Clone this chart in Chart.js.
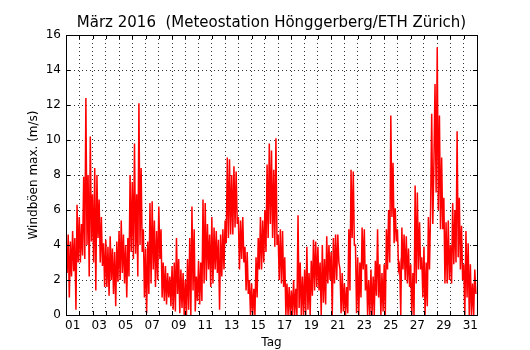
<!DOCTYPE html>
<html>
<head>
<meta charset="utf-8">
<script src="https://cdn.jsdelivr.net/npm/chart.js@4.4.1/dist/chart.umd.min.js"></script>
<style>
  html, body { margin: 0; padding: 0; background: #fff; }
  canvas { display: block; }
</style>
</head>
<body>
<canvas id="chart" width="530" height="350"></canvas>
<script>
// peak gusts (m/s), one value every 2 hours
const gusts = [
  /* 01 */ 3.9, 2.4, 4.6, 1.0, 4.2, 2.2, 4.8, 2.5, 4.4, 0.3, 6.3, 3.0,
  /* 02 */ 5.6, 3.0, 5.2, 3.4, 7.9, 3.2, 12.4, 4.0, 8.0, 2.2, 10.2, 4.2,
  /* 03 */ 6.9, 3.0, 8.4, 1.4, 8.0, 4.4, 6.6, 3.0, 5.6, 2.8, 4.1, 1.6,
  /* 04 */ 4.3, 1.6, 3.9, 1.1, 4.5, 2.0, 3.8, 1.2, 3.6, 0.5, 4.2, 1.9,
  /* 05 */ 4.8, 2.0, 5.4, 2.4, 4.6, 1.8, 4.0, 1.0, 4.4, 2.2, 8.0, 3.6,
  /* 06 */ 7.6, 3.2, 9.8, 3.5, 6.9, 2.2, 12.1, 4.0, 8.4, 3.6, 4.9, 1.0,
  /* 07 */ 3.8, 0.1, 4.2, 1.2, 6.4, 1.8, 6.5, 2.6, 5.4, 1.6, 4.8, 2.0,
  /* 08 */ 6.2, 3.2, 4.9, 1.0, 3.0, 0.8, 2.8, 0.6, 2.4, 1.0, 2.2, 0.5,
  /* 09 */ 2.8, 0.3, 3.0, 0.2, 4.4, 1.2, 3.2, 0.1, 2.6, 0.4, 2.4, 0.0,
  /* 10 */ 2.0, 0.0, 3.2, 0.3, 4.4, 0.0, 6.2, 1.4, 4.9, 0.2, 2.2, 0.8,
  /* 11 */ 3.1, 0.6, 3.0, 0.8, 6.6, 1.8, 6.4, 2.0, 5.2, 2.6, 4.6, 1.6,
  /* 12 */ 5.6, 1.8, 5.0, 2.6, 4.8, 2.4, 4.3, 0.3, 4.6, 2.2, 4.9, 2.6,
  /* 13 */ 5.4, 4.1, 9.0, 4.4, 8.9, 4.6, 8.0, 4.6, 8.5, 5.0, 8.2, 5.2,
  /* 14 */ 5.6, 2.6, 5.4, 3.2, 5.6, 3.0, 3.9, 1.4, 3.6, 1.2, 2.0, 0.0,
  /* 15 */ 1.8, 0.0, 1.5, 0.0, 3.3, 1.0, 4.4, 2.6, 5.6, 2.6, 5.4, 3.0,
  /* 16 */ 6.0, 3.6, 8.6, 4.4, 9.8, 5.2, 9.4, 4.4, 8.3, 3.9, 10.1, 4.0,
  /* 17 */ 4.6, 2.0, 4.9, 1.8, 4.8, 1.6, 3.3, 0.0, 1.8, 0.0, 1.6, 0.0,
  /* 18 */ 1.4, 0.0, 2.0, 0.0, 1.5, 0.0, 5.7, 0.4, 3.0, 0.0, 2.2, 0.0,
  /* 19 */ 2.6, 0.0, 3.9, 0.3, 2.4, 0.0, 3.1, 1.1, 4.3, 1.4, 4.2, 1.6,
  /* 20 */ 3.9, 1.4, 3.0, 0.0, 4.0, 0.7, 3.2, 0.6, 4.5, 1.8, 4.0, 2.0,
  /* 21 */ 3.6, 0.0, 4.4, 1.8, 4.6, 2.0, 4.6, 3.0, 2.6, 0.1, 2.4, 0.2,
  /* 22 */ 1.8, 0.0, 1.6, 0.1, 4.9, 1.4, 8.3, 4.4, 8.2, 4.0, 4.0, 0.1,
  /* 23 */ 3.3, 0.0, 3.0, 1.0, 5.0, 2.6, 4.9, 1.4, 2.9, 0.0, 2.0, 0.0,
  /* 24 */ 2.6, 0.0, 2.2, 0.0, 3.1, 1.1, 4.9, 1.0, 2.9, 0.0, 2.4, 0.2,
  /* 25 */ 2.9, 0.0, 4.9, 2.6, 6.0, 3.0, 11.4, 5.6, 8.7, 4.1, 6.1, 4.2,
  /* 26 */ 4.9, 2.6, 2.9, 0.0, 5.0, 2.6, 4.6, 2.0, 4.5, 1.8, 3.8, 1.6,
  /* 27 */ 2.9, 0.0, 2.4, 0.0, 7.4, 1.8, 7.0, 2.6, 5.3, 2.6, 3.3, 1.0,
  /* 28 */ 3.9, 0.0, 3.0, 0.5, 5.6, 2.6, 6.0, 11.5, 5.2, 8.7, 13.2, 7.0,
  /* 29 */ 15.3, 6.0, 11.4, 4.9, 9.0, 4.9, 6.7, 1.8, 5.3, 1.8, 5.4, 2.0,
  /* 30 */ 4.0, 1.8, 6.4, 2.9, 6.0, 3.0, 10.5, 3.3, 6.7, 2.6, 5.1, 2.0,
  /* 31 */ 2.9, 0.0, 4.8, 1.0, 4.1, 0.0, 2.9, 0.0, 1.8, 0.0, 2.6, 1.2
];
const SAMPLES_PER_DAY = 12;
const DAYS = 31;
const dayLabels = ['01','03','05','07','09','11','13','15','17','19','21','23','25','27','29','31'];
const yTicks = [0, 2, 4, 6, 8, 10, 12, 14, 16];

const FONT = 'DejaVu Sans';
const GRID = 'rgba(0,0,0,0.8)';

// day labels sit at noon of odd days, grid lines at midnight
function labelFor(v) {
  const d = Math.floor(v);
  if (v - d === 0.5 && d % 2 === 0) return dayLabels[d / 2];
  return '';
}

// matplotlib-style frame with inward ticks on all four sides
const frameTicks = {
  id: 'frameTicks',
  afterDatasetsDraw(chart) {
    const { ctx, chartArea: a, scales: { x, y } } = chart;
    ctx.save();
    ctx.strokeStyle = '#000';
    ctx.lineWidth = 1;
    ctx.beginPath();
    for (let d = 1; d < DAYS; d++) {
      const px = Math.round(x.getPixelForValue(d)) + 0.5;
      ctx.moveTo(px, a.bottom); ctx.lineTo(px, a.bottom - 4);
      ctx.moveTo(px, a.top); ctx.lineTo(px, a.top + 4);
    }
    yTicks.forEach(v => {
      const py = Math.round(y.getPixelForValue(v)) + 0.5;
      ctx.moveTo(a.left, py); ctx.lineTo(a.left + 4, py);
      ctx.moveTo(a.right, py); ctx.lineTo(a.right - 4, py);
    });
    ctx.stroke();
    ctx.strokeRect(Math.round(a.left) + 0.5, Math.round(a.top) + 0.5,
      Math.round(a.right - a.left), Math.round(a.bottom - a.top));
    ctx.restore();
  }
};

new Chart(document.getElementById('chart'), {
  type: 'line',
  data: {
    datasets: [{
      data: gusts.map((v, i) => ({ x: i / SAMPLES_PER_DAY, y: v })),
      borderColor: '#ff0000',
      borderWidth: 1.5,
      pointRadius: 0,
      tension: 0,
      fill: false
    }]
  },
  options: {
    responsive: false,
    animation: false,
    devicePixelRatio: 1,
    layout: { padding: { left: 0, right: 53, top: 0, bottom: 0 } },
    plugins: {
      legend: { display: false },
      tooltip: { enabled: false },
      title: {
        display: true,
        fullSize: false,
        text: 'März 2016  (Meteostation Hönggerberg/ETH Zürich)',
        color: '#000',
        font: { family: FONT, size: 15, weight: 'normal' },
        padding: { top: 14, bottom: 3 }
      }
    },
    scales: {
      x: {
        type: 'linear',
        min: 0,
        max: DAYS,
        afterBuildTicks: s => {
          const t = [];
          for (let d = 0; d <= DAYS; d++) {
            t.push({ value: d });
            if (d < DAYS && labelFor(d + 0.5)) t.push({ value: d + 0.5 });
          }
          s.ticks = t;
        },
        afterFit: s => { s.height = 35; },
        ticks: {
          autoSkip: false,
          maxRotation: 0,
          padding: 4,
          color: '#000',
          font: { family: FONT, size: 12 },
          callback: v => labelFor(v)
        },
        grid: {
          drawTicks: false,
          color: c => (c.tick && Number.isInteger(c.tick.value)) ? GRID : 'rgba(0,0,0,0)',
          lineWidth: 1
        },
        border: { display: false, dash: [1, 3] },
        title: {
          display: true,
          text: 'Tag',
          color: '#000',
          font: { family: FONT, size: 12 },
          padding: { top: 2, bottom: 0 }
        }
      },
      y: {
        min: 0,
        max: 16,
        afterBuildTicks: s => { s.ticks = yTicks.map(v => ({ value: v })); },
        afterFit: s => { s.width = 66; },
        ticks: {
          padding: 5,
          color: '#000',
          font: { family: FONT, size: 12 }
        },
        grid: { drawTicks: false, color: GRID, lineWidth: 1 },
        border: { display: false, dash: [1, 3] },
        title: {
          display: true,
          text: 'Windböen max. (m/s)',
          color: '#000',
          font: { family: FONT, size: 12 },
          padding: { top: 27, bottom: 0 }
        }
      }
    }
  },
  plugins: [frameTicks]
});
</script>
</body>
</html>
